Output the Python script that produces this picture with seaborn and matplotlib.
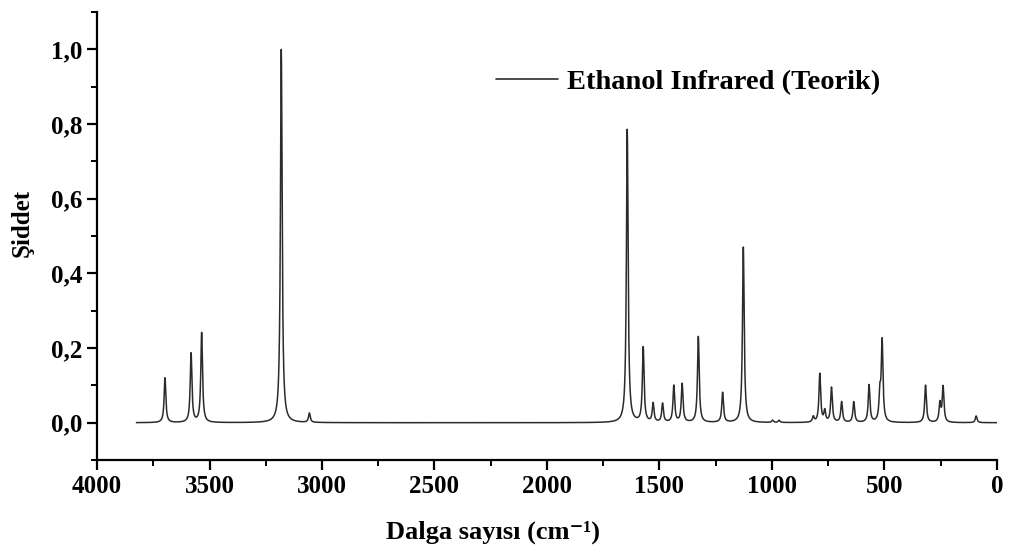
import numpy as np
import pandas as pd
import matplotlib
matplotlib.use("Agg")
import matplotlib.pyplot as plt
from matplotlib.ticker import FuncFormatter, MultipleLocator
import seaborn as sns

# Peak list (wavenumber cm-1, relative intensity)
peak_positions = [3698, 3582, 3535, 3181, 3056,
                  1643, 1572, 1528, 1486, 1436, 1399, 1327, 1219,
                  1127, 997, 968, 816, 787, 765, 735, 690, 636, 568,
                  520, 510, 317, 253, 239, 92]
peak_heights = [0.12, 0.185, 0.24, 1.0, 0.025,
                0.785, 0.2, 0.05, 0.05, 0.098, 0.103, 0.23, 0.08,
                0.47, 0.006, 0.006, 0.015, 0.13, 0.03, 0.093, 0.055, 0.055, 0.1,
                0.07, 0.215, 0.1, 0.05, 0.095, 0.018]
peak_hwhm = 4.5
x_start, x_end = 3825, 0
legend_label = "Ethanol Infrared (Teorik)"
x_ticks = [4000, 3500, 3000, 2500, 2000, 1500, 1000, 500, 0]
y_ticks = [0.0, 0.2, 0.4, 0.6, 0.8, 1.0]

# Lorentzian broadening of the stick spectrum
wn = np.arange(x_start, x_end - 0.5, -1.0)
inten = np.zeros_like(wn)
for p, h in zip(peak_positions, peak_heights):
    inten += h / (1.0 + ((wn - p) / peak_hwhm) ** 2)

df = pd.DataFrame({"Dalga": wn, "Siddet": inten, "seri": legend_label})

sns.set_theme(style="ticks")
plt.rcParams["font.family"] = ["Liberation Serif", "DejaVu Serif"]
plt.rcParams["font.weight"] = "bold"
plt.rcParams["text.color"] = "black"
plt.rcParams["axes.labelcolor"] = "black"

fig = plt.figure(figsize=(10.11, 5.49), dpi=100)
ax = fig.add_axes([0.096, 0.162, 0.890, 0.816])

sns.lineplot(data=df, x="Dalga", y="Siddet", hue="seri", palette=["#2b2b2b"],
             linewidth=1.1, sort=False, ax=ax, estimator=None)

ax.set_xlim(4000, 0)
ax.set_ylim(-0.1, 1.1)
ax.set_xticks(x_ticks)
ax.set_yticks(y_ticks)
ax.xaxis.set_minor_locator(MultipleLocator(250))
ax.yaxis.set_minor_locator(MultipleLocator(0.1))
ax.yaxis.set_major_formatter(FuncFormatter(lambda v, _: f"{v:.1f}".replace(".", ",")))
ax.xaxis.set_major_formatter(FuncFormatter(lambda v, _: f"{int(round(v))}"))

for s in ["top", "right"]:
    ax.spines[s].set_visible(False)
for s in ["left", "bottom"]:
    ax.spines[s].set_linewidth(1.6)
    ax.spines[s].set_color("black")

ax.tick_params(axis="both", which="major", direction="out", length=7, width=1.6,
               labelsize=18, colors="black")
ax.tick_params(axis="both", which="minor", direction="out", length=4, width=1.4,
               colors="black")
for lab in ax.get_xticklabels() + ax.get_yticklabels():
    lab.set_fontweight("bold")

ax.set_xlabel("Dalga sayısı (cm⁻¹)", fontsize=19, fontweight="bold", color="black")
ax.set_ylabel("Şiddet", fontsize=18, fontweight="bold", color="black")
ax.xaxis.set_label_coords(0.44, -0.135)
ax.yaxis.set_label_coords(-0.07, 0.53)

leg = ax.legend(loc="upper left", bbox_to_anchor=(0.443, 0.872), frameon=False,
                prop={"family": "Liberation Serif", "weight": "bold", "size": 20.5},
                handlelength=2.2, handletextpad=0.3, borderpad=0, borderaxespad=0)
for line in leg.get_lines():
    line.set_color("#2b2b2b")
    line.set_linewidth(1.2)
for t in leg.get_texts():
    t.set_color("black")

fig.savefig("out.png", dpi=100)
